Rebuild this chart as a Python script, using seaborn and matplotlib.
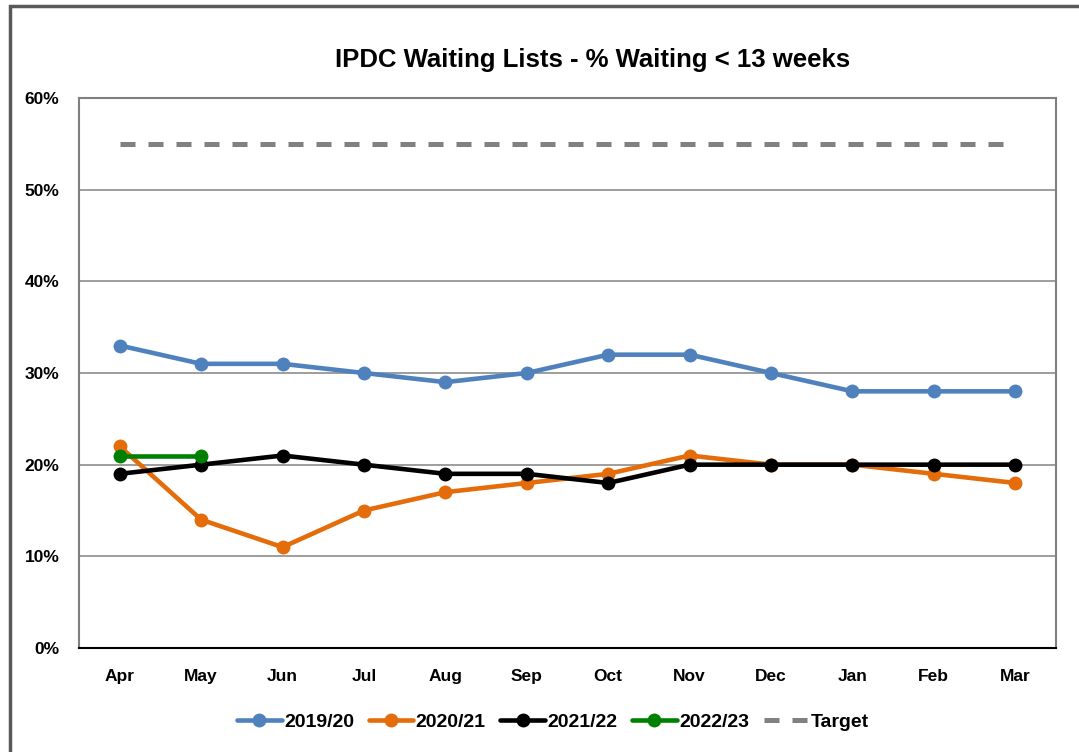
import numpy as np
import pandas as pd
import seaborn as sns
import matplotlib.pyplot as plt
from matplotlib.patches import Rectangle
from matplotlib.ticker import FuncFormatter, MultipleLocator

months = ["Apr", "May", "Jun", "Jul", "Aug", "Sep", "Oct", "Nov", "Dec", "Jan", "Feb", "Mar"]
y2019 = [33, 31, 31, 30, 29, 30, 32, 32, 30, 28, 28, 28]
y2020 = [22, 14, 11, 15, 17, 18, 19, 21, 20, 20, 19, 18]
y2021 = [19, 20, 21, 20, 19, 19, 18, 20, 20, 20, 20, 20]
y2022 = [21, 21]
target = [55] * 12

series = {
    "2019/20": y2019,
    "2020/21": y2020,
    "2021/22": y2021,
    "2022/23": y2022,
}
colors = {"2019/20": "#4f81bd", "2020/21": "#e46c0a", "2021/22": "#000000", "2022/23": "#008000"}

rows = []
for name, vals in series.items():
    for i, v in enumerate(vals):
        rows.append({"series": name, "x": i, "value": v})
df = pd.DataFrame(rows)

sns.set_style("white")
plt.rcParams["font.family"] = ["Liberation Sans", "DejaVu Sans"]
plt.rcParams["font.weight"] = "bold"
plt.rcParams["text.color"] = "black"
plt.rcParams["xtick.color"] = "black"
plt.rcParams["ytick.color"] = "black"

fig = plt.figure(figsize=(10.79, 7.52), dpi=100)
ax = fig.add_axes([79 / 1079, (752 - 648) / 752, 977 / 1079, 550 / 752])

for name in series:
    sub = df[df["series"] == name]
    sns.lineplot(data=sub, x="x", y="value", ax=ax, color=colors[name], lw=3.3,
                 marker="o", markersize=10, markeredgewidth=0, label=name, zorder=3)

ax.plot(range(len(months)), target, color="#808080", lw=3.6, ls=(0, (3.0, 2.6)),
        label="Target", zorder=2)

ax.set_xlim(-0.5, 11.5)
ax.set_ylim(0, 60)
ax.yaxis.set_major_locator(MultipleLocator(10))
ax.yaxis.set_major_formatter(FuncFormatter(lambda v, p: f"{v:.0f}%"))
ax.set_xticks(range(len(months)))
ax.set_xticklabels(months)
ax.set_xticks(np.arange(-0.5, 12, 1), minor=True)
ax.set_xlabel("")
ax.set_ylabel("")
ax.grid(axis="y", color="#8c8c8c", lw=1.2)
ax.set_axisbelow(True)

for s in ["left", "top", "right"]:
    ax.spines[s].set_color("#808080")
    ax.spines[s].set_linewidth(1.5)
ax.spines["bottom"].set_color("#000000")
ax.spines["bottom"].set_linewidth(1.5)

ax.tick_params(axis="x", which="both", direction="out", length=5, width=1.2,
               color="black", labelcolor="black", pad=10, labelsize=12.5)
ax.tick_params(axis="y", length=0, pad=14, labelsize=12.5, labelcolor="black")
for lab in ax.get_xticklabels() + ax.get_yticklabels():
    lab.set_fontweight("bold")

fig.text(593 / 1079, 1 - 60 / 752, "IPDC Waiting Lists - % Waiting < 13 weeks",
         ha="center", va="center", fontsize=18.5, fontweight="bold", color="black")

handles, labels = ax.get_legend_handles_labels()
leg = ax.legend(handles, labels, loc="center", bbox_to_anchor=(553 / 1079, 1 - 722 / 752),
                bbox_transform=fig.transFigure, ncol=5, frameon=False,
                prop={"size": 14, "weight": "bold"}, handlelength=2.3,
                handletextpad=0.12, columnspacing=0.75)
for t in leg.get_texts():
    t.set_color("black")

fig.patches.append(Rectangle((10 / 1079, -0.1), 1.2, 1.1 - 6 / 752,
                             transform=fig.transFigure, fill=False,
                             edgecolor="#595959", lw=2.5))

fig.savefig("out.png", dpi=100)
